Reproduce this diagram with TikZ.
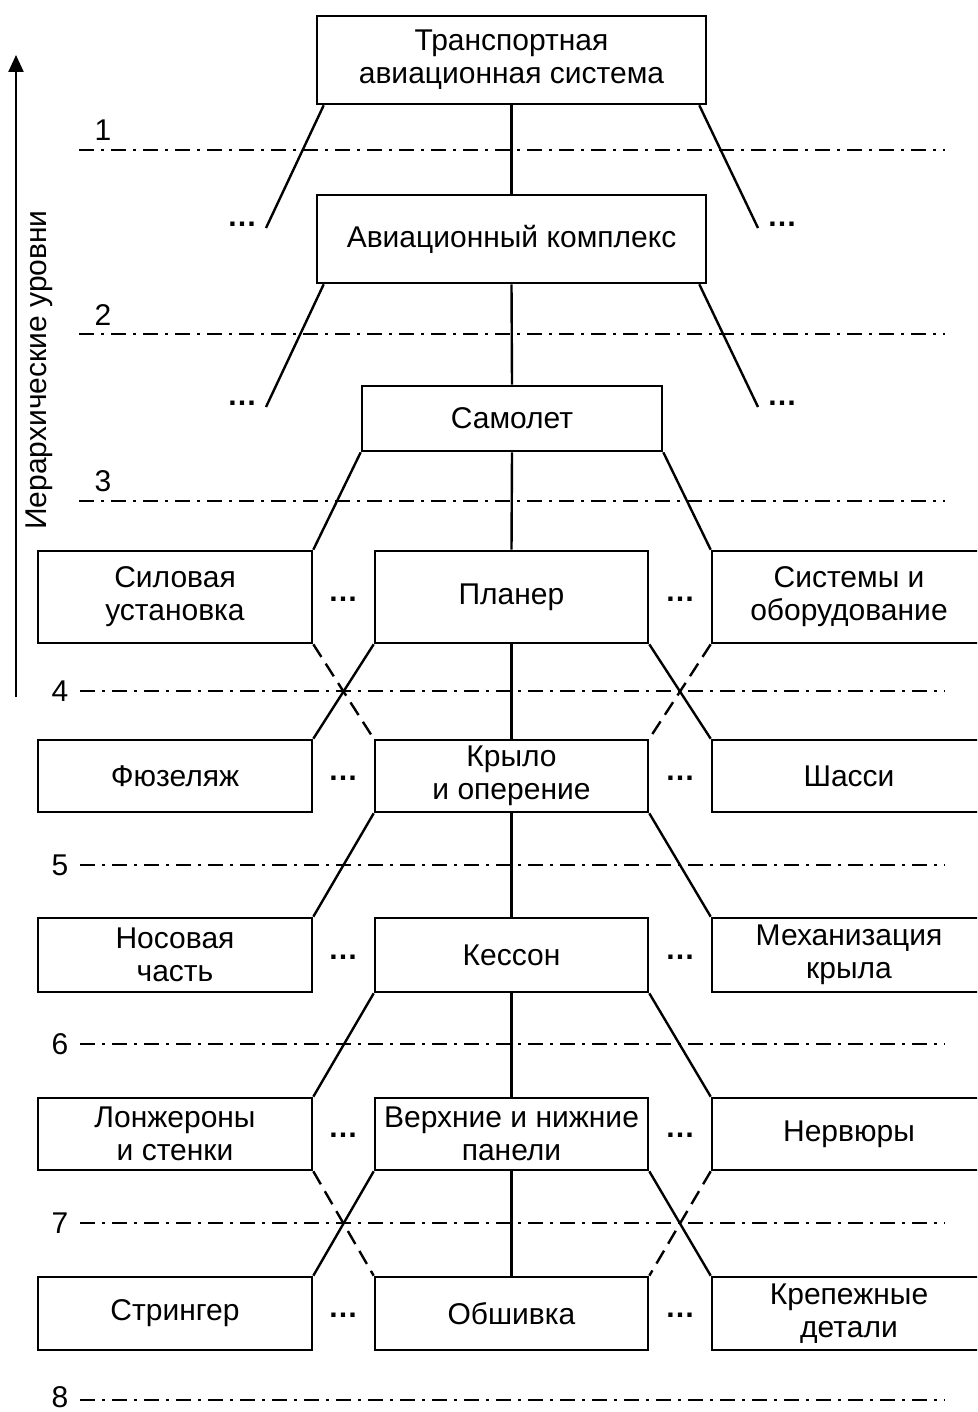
\documentclass[tikz,border=0pt]{standalone}
\usepackage{fontspec}
\setmainfont{Liberation Sans}
\usetikzlibrary{arrows.meta}

\tikzset{
  blk/.style={draw,line width=2.6pt,inner sep=2pt,align=center,font=\fontsize{30}{33}\selectfont},
  sidebox/.style={blk,minimum width=274},
  midbox/.style={blk,minimum width=273},
  lnk/.style={line width=2.4pt},
  lnkd/.style={line width=2.4pt,dash pattern=on 15pt off 8pt},
  lvl/.style={line width=2.2pt,dash pattern=on 15pt off 7pt on 3pt off 7pt},
  txt/.style={font=\fontsize{30}{33}\selectfont},
  dts/.style={font=\fontsize{30}{33}\bfseries\selectfont,anchor=base,inner sep=0pt}
}

\begin{document}
\begin{tikzpicture}[x=1pt,y=1pt,yscale=-1,xscale=1]
\clip (0,0) rectangle (977,1412);

%Levels
\draw[lvl] (79,150) -- (945,150);
\node[txt] (n1) at (103,130) {1};
\draw[lvl] (79,334) -- (945,334);
\node[txt] (n2) at (103,315) {2};
\draw[lvl] (79,501) -- (945,501);
\node[txt] (n3) at (103,481) {3};
\draw[lvl] (80,691) -- (945,691);
\node[txt] (n4) at (60,691) {4};
\draw[lvl] (80,865) -- (945,865);
\node[txt] (n5) at (60,865) {5};
\draw[lvl] (80,1044) -- (945,1044);
\node[txt] (n6) at (60,1044) {6};
\draw[lvl] (80,1223) -- (945,1223);
\node[txt] (n7) at (60,1223) {7};
\draw[lvl] (80,1400) -- (945,1400);
\node[txt] (n8) at (60,1397) {8};

%Axis
\coordinate (ax0) at (16,697);
\coordinate (ax1) at (16,55);
\draw[line width=2.4pt,-{Triangle[length=17pt,width=15pt]}] (ax0) -- (ax1);
\node[txt,rotate=90] (axname) at (39,370) {Иерархические уровни};

%Upper boxes
\node[blk,minimum width=389,minimum height=88] (sys) at (511.5,60) {Транспортная\\авиационная система};
\node[blk,minimum width=389,minimum height=88] (kompl) at (511.5,239) {Авиационный комплекс};
\node[blk,minimum width=300,minimum height=65] (plane) at (512,418.5) {Самолет};

%Row 4
\node[sidebox,minimum height=92] (pwr) at (175,597) {Силовая\\установка};
\node[midbox,minimum height=92] (glider) at (511.5,597) {Планер};
\node[sidebox,minimum height=92] (equip) at (849,597) {Системы и\\оборудование};
%Row 5
\node[sidebox,minimum height=72] (fuse) at (175,776) {Фюзеляж};
\node[midbox,minimum height=72] (wing) at (511.5,776) {Крыло\\и оперение};
\node[sidebox,minimum height=72] (gear) at (849,776) {Шасси};
%Row 6
\node[sidebox,minimum height=74] (nose) at (175,955) {Носовая\\часть};
\node[midbox,minimum height=74] (caisson) at (511.5,955) {Кессон};
\node[sidebox,minimum height=74] (flaps) at (849,955) {Механизация\\крыла};
%Row 7
\node[sidebox,minimum height=72] (spars) at (175,1134) {Лонжероны\\и стенки};
\node[midbox,minimum height=72] (panels) at (511.5,1134) {Верхние и нижние\\панели};
\node[sidebox,minimum height=72] (ribs) at (849,1134) {Нервюры};
%Row 8
\node[sidebox,minimum height=73] (stringer) at (175,1313.5) {Стрингер};
\node[midbox,minimum height=73] (skin) at (511.5,1313.5) {Обшивка};
\node[sidebox,minimum height=73] (fast) at (849,1313.5) {Крепежные\\детали};

%Dots
\node[dts] (e1l) at (242,227) {…};
\node[dts] (e1r) at (782,227) {…};
\node[dts] (e2l) at (242,405) {…};
\node[dts] (e2r) at (782,405) {…};
\node[dts] (e4l) at (343,601) {…};
\node[dts] (e4r) at (680,601) {…};
\node[dts] (e5l) at (343,780) {…};
\node[dts] (e5r) at (680,780) {…};
\node[dts] (e6l) at (343,959) {…};
\node[dts] (e6r) at (680,959) {…};
\node[dts] (e7l) at (343,1137) {…};
\node[dts] (e7r) at (680,1137) {…};
\node[dts] (e8l) at (343,1317) {…};
\node[dts] (e8r) at (680,1317) {…};

%Straight Lines
\coordinate (d1l) at (266,228);
\coordinate (d1r) at (758,228);
\coordinate (d2l) at (266,407);
\coordinate (d2r) at (758,407);
\draw[lnk] (sys.south) -- (kompl.north);
\draw[lnk] ([xshift=8]sys.south west) -- (d1l);
\draw[lnk] ([xshift=-8]sys.south east) -- (d1r);
\draw[lnk] (kompl.south) -- (plane.north);
\draw[lnk] ([xshift=8]kompl.south west) -- (d2l);
\draw[lnk] ([xshift=-8]kompl.south east) -- (d2r);
\draw[lnk] (plane.south) -- (glider.north);
\draw[lnk] (plane.south west) -- (pwr.north east);
\draw[lnk] (plane.south east) -- (equip.north west);

\draw[lnk] (glider.south) -- (wing.north);
\draw[lnk] (glider.south west) -- (fuse.north east);
\draw[lnk] (glider.south east) -- (gear.north west);
\draw[lnkd] (pwr.south east) -- (wing.north west);
\draw[lnkd] (equip.south west) -- (wing.north east);

\draw[lnk] (wing.south) -- (caisson.north);
\draw[lnk] (wing.south west) -- (nose.north east);
\draw[lnk] (wing.south east) -- (flaps.north west);

\draw[lnk] (caisson.south) -- (panels.north);
\draw[lnk] (caisson.south west) -- (spars.north east);
\draw[lnk] (caisson.south east) -- (ribs.north west);

\draw[lnk] (panels.south) -- (skin.north);
\draw[lnk] (panels.south west) -- (stringer.north east);
\draw[lnk] (panels.south east) -- (fast.north west);
\draw[lnkd] (spars.south east) -- (skin.north west);
\draw[lnkd] (ribs.south west) -- (skin.north east);

\end{tikzpicture}
\end{document}
